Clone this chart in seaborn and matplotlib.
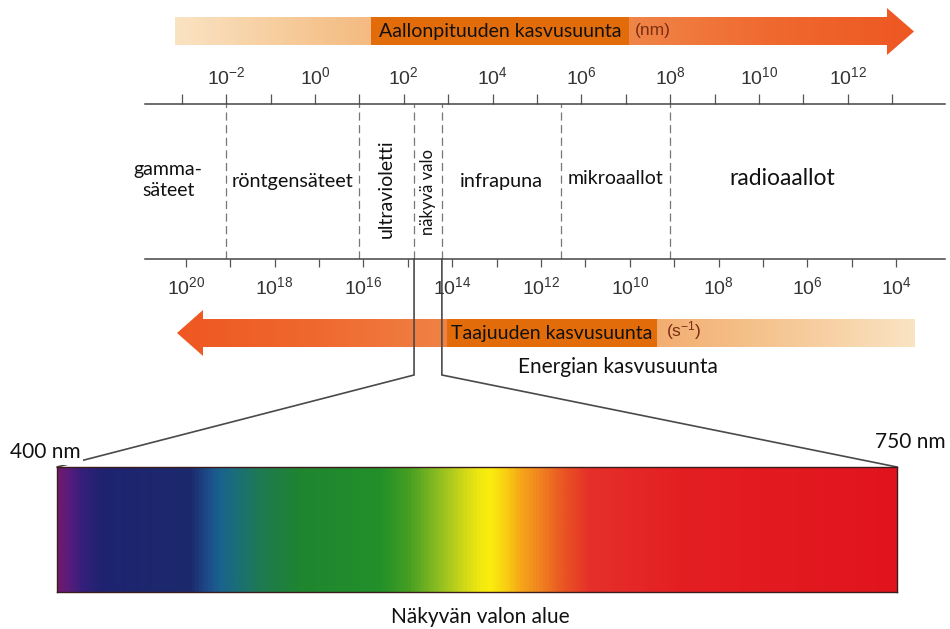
import numpy as np
import matplotlib
matplotlib.use("Agg")
import matplotlib.pyplot as plt
import seaborn as sns
from matplotlib.colors import LinearSegmentedColormap
from matplotlib.patches import Polygon, Rectangle
from matplotlib.ticker import NullLocator

# ---------------------------------------------------------------- data
# wavelength ruler, decades of nm
wavelength_exp = list(range(-3, 14))
wavelength_labelled = [-2, 0, 2, 4, 6, 8, 10, 12]
# frequency ruler, decades of 1/s
frequency_exp = list(range(4, 21))
frequency_labelled = [20, 18, 16, 14, 12, 10, 8, 6, 4]

band_names = ["gamma-\nsäteet", "röntgensäteet", "ultravioletti", "näkyvä valo",
              "infrapuna", "mikroaallot", "radioaallot"]
band_edges_nm = [1e-2, 1e1, 1.7e2, 7.2e2, 3.5e5, 1e8]

visible_nm = [400, 750]
spectrum_nm = [400, 404, 410, 418, 455, 462, 467, 474, 485, 501, 535, 547,
               560, 570, 577, 581, 587, 593, 601, 610, 622, 660, 750]
spectrum_hex = ["#701a6e", "#5a1c7c", "#33207a", "#1f2370", "#1b2a6c", "#1d4a88",
                "#1a6090", "#1a6e78", "#1e7a50", "#1f8530", "#22902a", "#48a022",
                "#94c020", "#d2da18", "#f4ea10", "#faec0e", "#f8d012", "#f6a818",
                "#f08520", "#ea5a22", "#e5302a", "#e41f22", "#e1141e"]

# ---------------------------------------------------------------- style
sns.set_theme(style="white")
plt.rcParams.update({
    "font.family": ["Lato", "DejaVu Sans"],
    "mathtext.fontset": "custom",
    "mathtext.rm": "Liberation Sans",
    "mathtext.it": "Liberation Sans",
    "mathtext.sf": "Liberation Sans",
    "mathtext.default": "rm",
})

W, H = 950, 629
fig = plt.figure(figsize=(W / 100, H / 100), dpi=100)
fig.patch.set_facecolor("white")


def fig_rect(x0, y0, x1, y1):
    return [x0 / W, 1 - y1 / H, (x1 - x0) / W, (y1 - y0) / H]


# canvas in pixel units for arrows, boxes and connectors
bg = fig.add_axes([0, 0, 1, 1], zorder=0)
bg.set_xlim(0, W)
bg.set_ylim(H, 0)
bg.axis("off")

# ---------------------------------------------------------------- rulers
RULER_TOP, RULER_BOTTOM = 103.5, 259
wl_log_lim = (-3.83, 14.19)
fr_log_lim = (20.92, 2.90)

ax = fig.add_axes(fig_rect(145, RULER_TOP, 945, RULER_BOTTOM), zorder=2)
ax.set_facecolor("none")
axf = ax.twiny()

ax.set_xscale("log")
ax.set_xlim(10.0 ** wl_log_lim[0], 10.0 ** wl_log_lim[1])
ax.set_ylim(0, 1)
ax.set_yticks([])
ax.xaxis.set_ticks_position("top")
ax.xaxis.set_label_position("top")
ax.set_xticks([10.0 ** e for e in wavelength_exp],
              [f"$10^{{{e}}}$" if e in wavelength_labelled else "" for e in wavelength_exp])
ax.xaxis.set_minor_locator(NullLocator())
ax.tick_params(axis="x", which="major", direction="out", length=7.2, width=0.9,
               color="#555555", pad=4.5, labelsize=14, labelcolor="#333333")

axf.set_xscale("log")
axf.set_xlim(10.0 ** fr_log_lim[0], 10.0 ** fr_log_lim[1])
axf.xaxis.set_ticks_position("bottom")
axf.xaxis.set_label_position("bottom")
axf.set_xticks([10.0 ** e for e in frequency_exp],
               [f"$10^{{{e}}}$" if e in frequency_labelled else "" for e in frequency_exp])
axf.xaxis.set_minor_locator(NullLocator())
axf.tick_params(axis="x", which="major", direction="out", length=5.8, width=0.9,
                color="#555555", pad=6, labelsize=14, labelcolor="#333333")

for a in (ax, axf):
    for side in ("left", "right", "top", "bottom"):
        a.spines[side].set_visible(False)
ax.spines["top"].set_visible(True)
axf.spines["bottom"].set_visible(True)
for sp in (ax.spines["top"], axf.spines["bottom"]):
    sp.set_color("#454545")
    sp.set_linewidth(1.1)

# band boundaries
for edge in band_edges_nm:
    ax.axvline(edge, color="#777777", lw=0.9, ls=(0, (6.5, 3.6)))

# band names, centred between neighbouring boundaries
edges_log = [wl_log_lim[0]] + list(np.log10(band_edges_nm)) + [wl_log_lim[1]]
band_style = [
    dict(size=14, rotation=0, y=0.51, dx=-12.5),
    dict(size=14.3, rotation=0, y=0.50, dx=0),
    dict(size=14, rotation=90, y=0.455, dx=0),
    dict(size=12, rotation=90, y=0.43, dx=0),
    dict(size=14.3, rotation=0, y=0.50, dx=0),
    dict(size=14, rotation=0, y=0.52, dx=0),
    dict(size=16.5, rotation=0, y=0.52, dx=-18),
]
for i, (name, st) in enumerate(zip(band_names, band_style)):
    centre = 10.0 ** ((edges_log[i] + edges_log[i + 1]) / 2)
    ax.annotate(name, xy=(centre, st["y"]), xycoords=("data", "axes fraction"),
                xytext=(st["dx"], 0), textcoords="offset points",
                ha="center", va="center", rotation=st["rotation"],
                fontsize=st["size"], color="#111111", linespacing=1.3)

# ---------------------------------------------------------------- arrows
arrow_cmap = sns.blend_palette(["#fae3c3", "#f5c48e", "#f2a567", "#f0874a",
                                "#ef6a30", "#ee5722"], as_cmap=True)
grad = np.linspace(0, 1, 512)[None, :]

top_arrow = Polygon([(175, 17), (887, 17), (887, 8), (914, 31.5), (887, 55),
                     (887, 45), (175, 45)], closed=True, facecolor="none",
                    edgecolor="none")
bg.add_patch(top_arrow)
im = bg.imshow(grad, extent=[175, 914, 55, 8], cmap=arrow_cmap, aspect="auto",
               zorder=1)
im.set_clip_path(top_arrow)

bot_arrow = Polygon([(915, 319), (203, 319), (203, 310), (177, 333), (203, 356),
                     (203, 347), (915, 347)], closed=True, facecolor="none",
                    edgecolor="none")
bg.add_patch(bot_arrow)
im2 = bg.imshow(grad[:, ::-1], extent=[177, 915, 356, 310], cmap=arrow_cmap,
                aspect="auto", zorder=1)
im2.set_clip_path(bot_arrow)

bg.add_patch(Rectangle((371, 17), 258, 28, facecolor="#e36c0a", edgecolor="none",
                       zorder=2))
bg.text(500, 31, "Aallonpituuden kasvusuunta", ha="center", va="center",
        fontsize=14, color="#111111", zorder=3)
bg.text(653, 31, "(nm)", ha="center", va="center", fontsize=12.5,
        family="Liberation Sans", color="#7a2e12", zorder=3)

bg.add_patch(Rectangle((447, 319), 210, 28, facecolor="#e36c0a", edgecolor="none",
                       zorder=2))
bg.text(552, 333, "Taajuuden kasvusuunta", ha="center", va="center",
        fontsize=14, color="#111111", zorder=3)
bg.text(684, 331, "(s$^{-1}$)", ha="center", va="center", fontsize=12.5,
        family="Liberation Sans", color="#7a2e12", zorder=3)

bg.text(618, 367, "Energian kasvusuunta", ha="center", va="center",
        fontsize=15, color="#111111", zorder=3)

# ---------------------------------------------------------------- visible spectrum
spec = fig.add_axes(fig_rect(57, 467, 897, 592), zorder=1)
pos = [(w - visible_nm[0]) / (visible_nm[1] - visible_nm[0]) for w in spectrum_nm]
spec_cmap = LinearSegmentedColormap.from_list("visible", list(zip(pos, spectrum_hex)))
spec.imshow(np.linspace(visible_nm[0], visible_nm[1], 1200)[None, :],
            extent=[visible_nm[0], visible_nm[1], 0, 1], cmap=spec_cmap,
            vmin=visible_nm[0], vmax=visible_nm[1], aspect="auto")
spec.set_xlim(*visible_nm)
spec.set_xticks([])
spec.set_yticks([])
for sp in spec.spines.values():
    sp.set_visible(True)
    sp.set_color("#3a1c1c")
    sp.set_linewidth(1.0)

# connectors from the visible band on the ruler to the spectrum corners
to_bg = bg.transData.inverted()
KINK_Y = 375
for edge, corner in ((band_edges_nm[2], (0, 1)), (band_edges_nm[3], (1, 1))):
    x_edge = to_bg.transform(ax.transData.transform((edge, 0)))[0]
    cx, cy = to_bg.transform(spec.transAxes.transform(corner))
    bg.plot([x_edge, x_edge, cx], [RULER_BOTTOM, KINK_Y, cy], color="#4a4a4a",
            lw=1.2, zorder=2, solid_joinstyle="miter")

bg.text(45, 452, f"{visible_nm[0]} nm", ha="center", va="center", fontsize=15,
        color="#111111", zorder=5,
        bbox=dict(facecolor="white", edgecolor="none", pad=2))
bg.text(910, 442, f"{visible_nm[1]} nm", ha="center", va="center", fontsize=15,
        color="#111111", zorder=5,
        bbox=dict(facecolor="white", edgecolor="none", pad=2))
bg.text(480, 617, "Näkyvän valon alue", ha="center", va="center", fontsize=15,
        color="#111111", zorder=5)

fig.savefig("out.png", dpi=100, facecolor="white")
